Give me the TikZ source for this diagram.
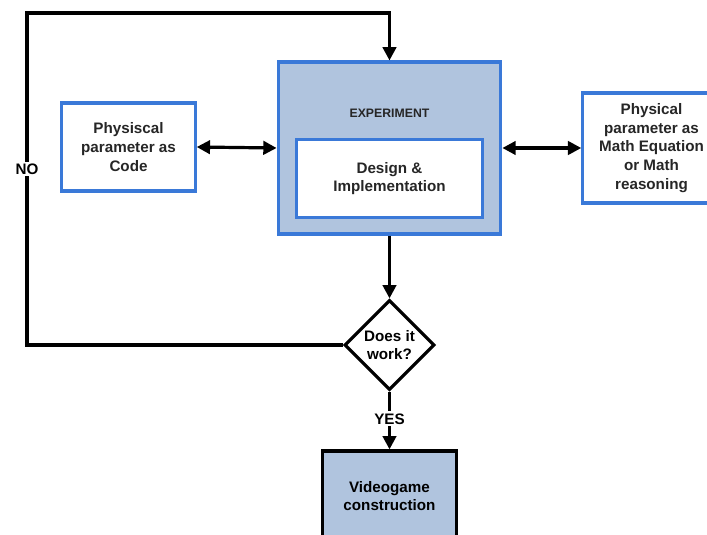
\documentclass[tikz,border=0pt]{standalone}
\usepackage{fontspec}
\setmainfont{Liberation Sans}
\usetikzlibrary{arrows.meta, shapes.geometric, calc}

\definecolor{boxblue}{RGB}{58,121,216}
\definecolor{steelfill}{RGB}{176,196,222}

\tikzset{
    bluebox/.style={draw=boxblue, line width=2.3pt, fill=white, align=center},
    flowline/.style={line width=2.4pt, black},
    lbl/.style={fill=white, inner sep=1.5pt}
}

\begin{document}
\begin{tikzpicture}[x=0.75pt, y=-0.75pt, >={Triangle[length=10pt, width=10pt]},
    font=\bfseries\fontsize{11.4}{14}\selectfont, text=black!85]

    % 1. Ramka obrazka (proporcje jak w oryginale)
    \useasboundingbox (0,0) rectangle (707,535);

    % 2. Blok EXPERIMENT z wewnetrznym prostokatem
    \node[bluebox, fill=steelfill, minimum width=167pt, minimum height=129pt] (exp) at (389.5,148) {};
    \node[font=\bfseries\fontsize{9.2}{11}\selectfont] (exptitle) at (389.5,113) {EXPERIMENT};
    \node[bluebox, minimum width=140pt, minimum height=59pt] (design) at (389.5,178.5) {Design \&\\Implementation};

    % 3. Bloki boczne
    \node[bluebox, minimum width=100pt, minimum height=66pt] (code) at (128.5,147) {Physiscal\\parameter as\\Code};
    \node[bluebox, minimum width=103pt, minimum height=82.5pt] (math) at (651.5,148)
        {Physical\\parameter as\\Math Equation\\or Math\\reasoning};

    % 4. Decyzja i blok koncowy
    \node[diamond, draw, flowline, fill=white, inner sep=0pt, minimum width=67.5pt, minimum height=67.5pt, align=center]
        (check) at (389.5,345) {Does it\\work?};
    \node[draw, flowline, fill=steelfill, minimum width=100pt, minimum height=67.5pt, align=center]
        (game) at (389.5,496) {Videogame\\construction};

    % 5. Petla powrotna (NO)
    \coordinate (swcorner) at (27,345);
    \coordinate (nwcorner) at (27,13);
    \draw[flowline, ->] (check.west) -- (swcorner)
        -- node[lbl, pos=0.53] (nolbl) {NO} (nwcorner) -| (exp.north);

    % 6. Strzalki pionowe i dwukierunkowe
    \draw[flowline, ->] (exp.south) -- (check.north);
    \draw[flowline, ->] (check.south) -- node[lbl, pos=0.47] (yeslbl) {YES} (game.north);
    \draw[flowline, <->] (code.east) -- (exp.west);
    \draw[flowline, <->] (exp.east) -- (math.west);

\end{tikzpicture}
\end{document}
